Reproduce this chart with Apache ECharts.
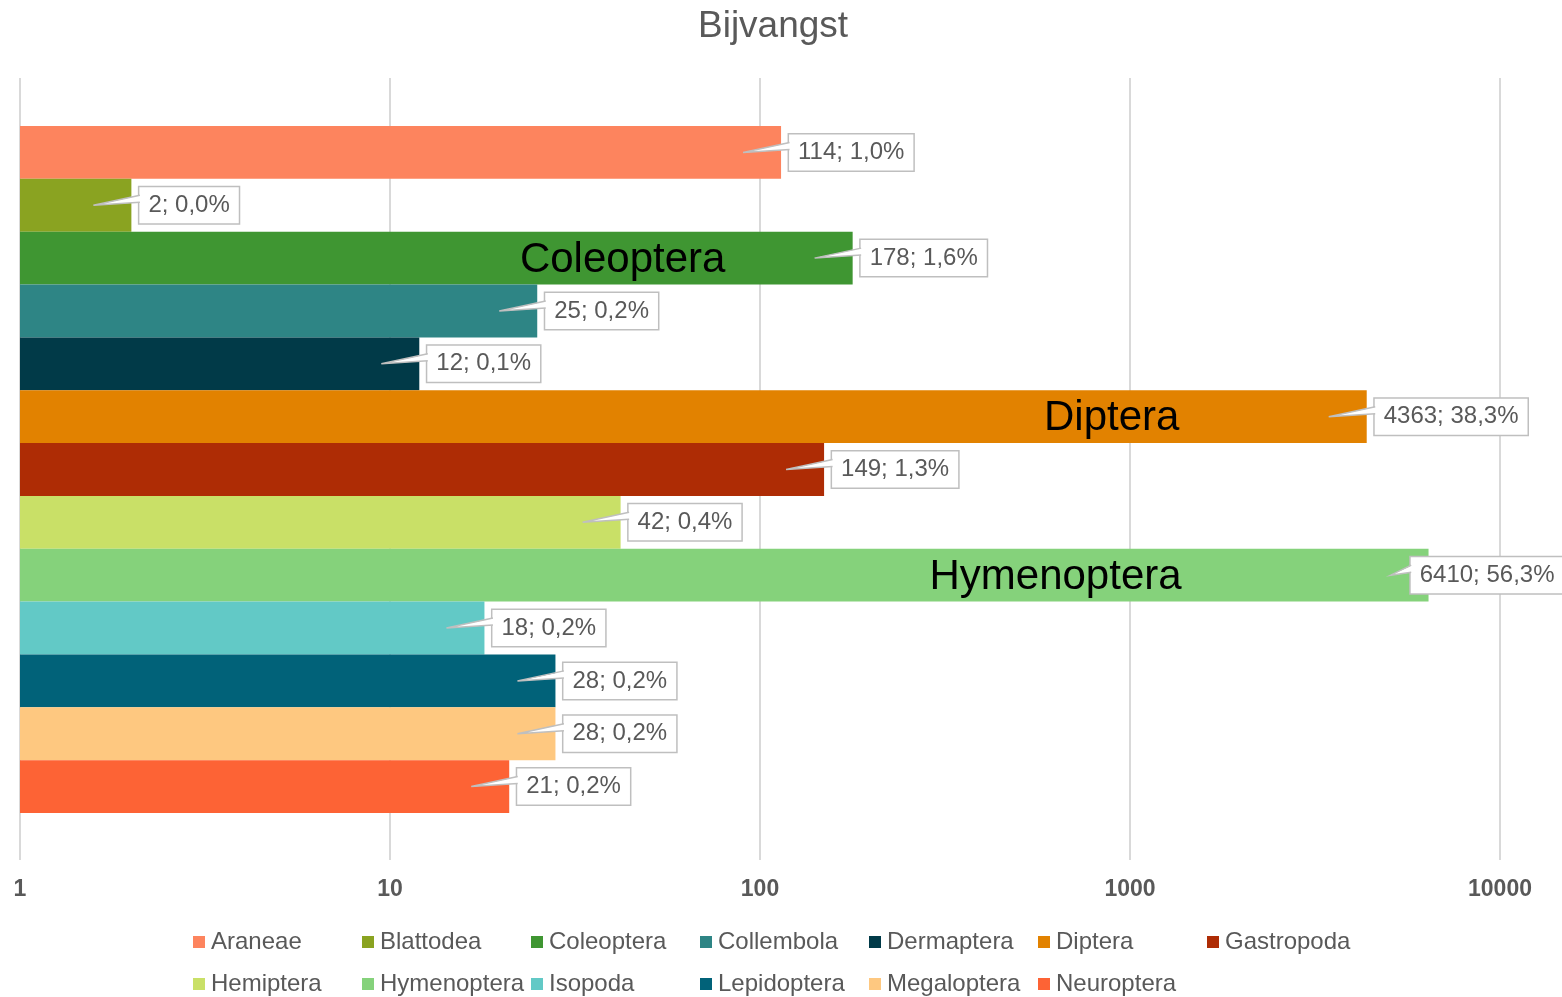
<!DOCTYPE html>
<html>
<head>
<meta charset="utf-8">
<script src="https://cdn.jsdelivr.net/npm/echarts@6/dist/echarts.min.js"></script>
<style>html,body{margin:0;padding:0;background:#fff}#chart{width:1562px;height:997px}</style>
</head>
<body>
<div id="chart"></div>
<script>
var categories = ['Araneae','Blattodea','Coleoptera','Collembola','Dermaptera','Diptera','Gastropoda','Hemiptera','Hymenoptera','Isopoda','Lepidoptera','Megaloptera','Neuroptera'];
var values = [114, 2, 178, 25, 12, 4363, 149, 42, 6410, 18, 28, 28, 21];
var colors = ['#fd845e','#8aa321','#3f9632','#2e8585','#013a48','#e28200','#ae2c05','#c9e067','#85d27b','#62c9c6','#016279','#fec880','#fd6335'];
var axisTickLabels = ['1','10','100','1000','10000'];
var innerNames = ['Coleoptera','Diptera','Hymenoptera'];
var innerNameShift = {Coleoptera: -230, Diptera: -255, Hymenoptera: -373};

var total = values.reduce(function(a,b){return a+b;},0);
function pct(v){ return (v/total*100).toFixed(1).replace('.', ',') + '%'; }
function labelText(v){ return v + '; ' + pct(v); }

var FONT = "'Liberation Sans', Arial, sans-serif";
var LABEL_FS = 24, PADX = 9, CHART_W = 1562, LABEL_GAP = 8;
var mctx = document.createElement('canvas').getContext('2d');
mctx.font = LABEL_FS + 'px ' + FONT;
function boxWidth(v){ return mctx.measureText(labelText(v)).width + 2*PADX + 1.5; }
function boxLeft(barEnd, v){ return Math.min(barEnd + LABEL_GAP, CHART_W + 3 - boxWidth(v)); }

var chart = echarts.init(document.getElementById('chart'));

var series = categories.map(function(name, i){
  var d = categories.map(function(c, j){ return j === i ? values[i] : '-'; });
  return {
    name: name, type: 'bar', xAxisIndex: 1, yAxisIndex: 1,
    barGap: '-100%', barCategoryGap: 0, z: 2,
    itemStyle: {color: colors[i]},
    data: d,
    label: {
      show: true, position: 'right', distance: LABEL_GAP,
      formatter: function(p){ return labelText(p.value); },
      backgroundColor: '#fff', borderColor: '#bfbfbf', borderWidth: 1.5,
      padding: [8, PADX, 4, PADX], fontSize: LABEL_FS, color: '#595959', fontFamily: FONT
    },
    labelLayout: function(params){
      var r = params.labelRect;
      var over = r.x + r.width - (CHART_W + 3);
      return over > 0 ? {dx: -over} : {};
    },
    emphasis: {disabled: true}
  };
});

series.push({
  type: 'custom', xAxisIndex: 1, yAxisIndex: 1, z: 5, silent: true,
  data: values.map(function(v,i){ return [v, i]; }),
  encode: {x: 0, y: 1},
  renderItem: function(params, api){
    var v = api.value(0);
    var p = api.coord([v, api.value(1)]);
    var bx = p[0], cy = p[1];
    var bl = boxLeft(bx, v);
    var tip = bx - 38;
    var children = [
      {type: 'polygon', shape: {points: [[tip, cy], [bl+2, cy-10], [bl+2, cy-3]]}, style: {fill: '#fff', stroke: null}},
      {type: 'polyline', shape: {points: [[bl+0.5, cy-10], [tip, cy], [bl+0.5, cy-3]]}, style: {stroke: '#bfbfbf', lineWidth: 1.5, fill: null}}
    ];
    var nm = categories[api.value(1)];
    if (innerNames.indexOf(nm) >= 0) {
      children.push({type: 'text', x: bx + innerNameShift[nm], y: cy + 2,
        style: {text: nm, fontSize: 42, fontFamily: FONT, fill: '#000', align: 'center', verticalAlign: 'middle'}});
    }
    return {type: 'group', children: children};
  }
});

chart.setOption({
  animation: false,
  textStyle: {fontFamily: FONT},
  title: {text: 'Bijvangst', left: 693, top: 3,
    textStyle: {fontSize: 37, fontWeight: 'normal', color: '#595959', fontFamily: FONT}},
  legend: {
    data: categories, left: 193, top: 921, width: 1190, padding: 0,
    itemGap: 0, itemWidth: 12, itemHeight: 12, icon: 'rect',
    textStyle: {fontSize: 24, color: '#595959', width: 151, lineHeight: 42, fontFamily: FONT, padding: [0,0,0,1]},
    selectedMode: false
  },
  grid: [
    {left: 20, right: 62, top: 78, height: 782},
    {left: 20, right: 62, top: 126, height: 687}
  ],
  xAxis: [
    {type: 'log', logBase: 10, min: 1, max: 10000, gridIndex: 0,
      axisLine: {show: false}, axisTick: {show: false},
      splitLine: {show: true, lineStyle: {color: '#d9d9d9', width: 2}},
      axisLabel: {fontSize: 23, fontWeight: 'bold', color: '#595959', margin: 18, fontFamily: FONT,
        formatter: function(v){ var s = String(Math.round(v)); return axisTickLabels.indexOf(s) >= 0 ? s : ''; }}},
    {type: 'log', logBase: 10, min: 1, max: 10000, gridIndex: 1, show: false}
  ],
  yAxis: [
    {type: 'value', gridIndex: 0, show: false, min: 0, max: 1},
    {type: 'category', gridIndex: 1, data: categories, inverse: true, show: false}
  ],
  series: series
});
</script>
</body>
</html>
